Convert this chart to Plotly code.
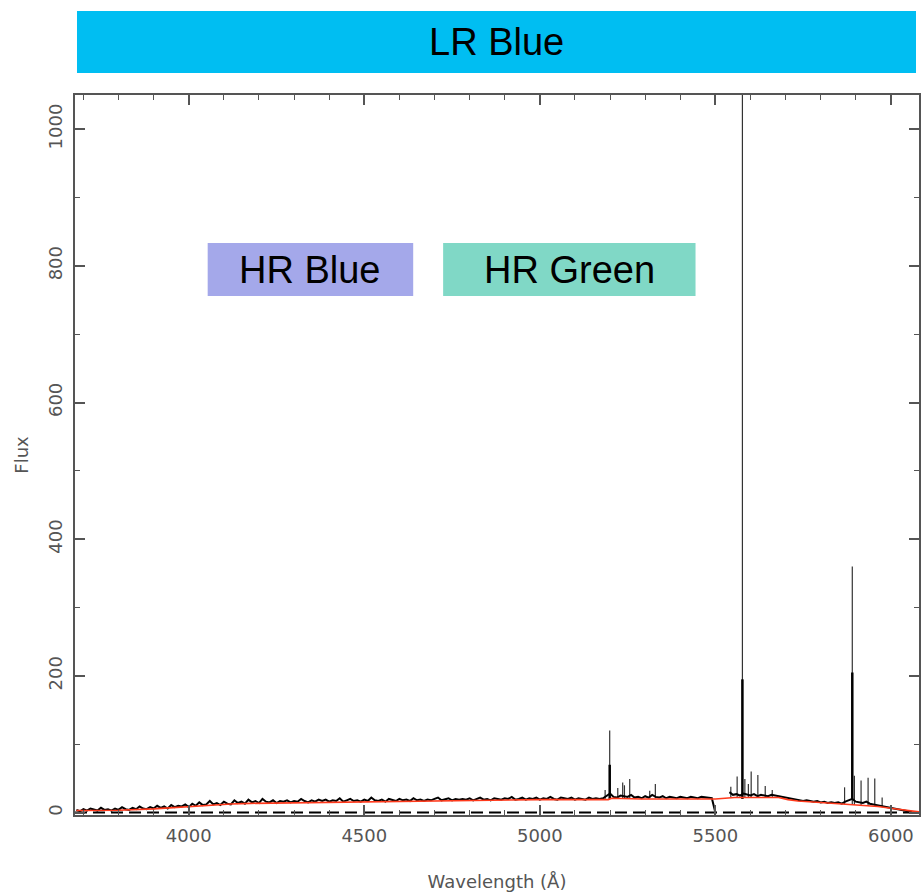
import plotly.graph_objects as go

# ---------------- data ----------------
# observed spectrum, sampled every 10 A starting at 3680 A (None = no data)
flux_start = 3680
flux_step = 10
flux = [
    4, 2, 5, 3, 6, 4, 3, 7, 4, 5,
    3, 6, 4, 8, 5, 4, 7, 5, 9, 6,
    5, 8, 6, 10, 7, 9, 6, 11, 8, 10,
    9, 12, 8, 13, 10, 15, 11, 12, 17, 12,
    14, 11, 16, 13, 12, 18, 14, 16, 13, 19,
    15, 17, 14, 20, 16, 15, 18, 14, 17, 16,
    18, 15, 17, 16, 20, 17, 15, 18, 16, 19,
    17, 19, 16, 18, 17, 21, 16, 18, 20, 17,
    18, 16, 19, 17, 22, 18, 17, 19, 16, 20,
    18, 17, 20, 18, 19, 17, 21, 18, 19, 17,
    19, 18, 20, 22, 18, 19, 21, 18, 20, 19,
    20, 19, 21, 18, 20, 22, 19, 20, 18, 21,
    20, 19, 21, 20, 23, 19, 20, 22, 19, 21,
    20, 22, 19, 21, 20, 23, 20, 19, 22, 21,
    20, 22, 19, 21, 20, 19, 22, 20, 21, 20,
    21, 24, 28, 23, 22, 25, 24, 23, 26, 22,
    23, 21, 24, 22, 26, 23, 22, 24, 21, 23,
    22, 21, 23, 22, 21, 23, 22, 21, 23, 22,
    22, 21, 0, None, None, None, 30, 26, 27, 25,
    28, 26, 25, 27, 24, 26, 25, 24, 26, 25,
    24, 22, 21, 20, 19, 18, 18, 17, 18, 17,
    16, 17, 15, 16, 14, 15, 14, 15, 13, 16,
    18, 20, 16, 15, 14, 16, 13, 12, 11, 10,
    9, 8, 7, 6, 5, 4, 3, 2, 1,
]

# continuum fit (red)
cont_wave = [3680, 3800, 3900, 3960, 4000, 4120, 4175, 4260, 4300, 4460, 4670,
             4880, 5000, 5195, 5205, 5290, 5500, 5555, 5680, 5707, 5735, 5820,
             5906, 5963, 6005, 6048, 6080]
cont_flux = [3, 3.5, 5.5, 7.5, 9.5, 12.5, 13.5, 14, 15, 16, 17.5,
             18.5, 19, 19, 21, 20, 20, 22, 22, 19, 17, 14,
             11, 9, 6, 3, 1]

# narrow emission / sky lines: wavelength, base, peak
line_wave = [5186, 5199, 5222, 5236, 5241, 5256, 5313, 5329,
             5544, 5562, 5577, 5584, 5594, 5602, 5621, 5642, 5662,
             5868, 5890, 5896, 5915, 5935, 5954, 5975]
line_base = [20, 20, 21, 21, 21, 21, 21, 21,
             22, 22, 22, 22, 22, 22, 22, 22, 22,
             12, 11, 11, 11, 10, 10, 9]
line_peak = [33, 120, 36, 44, 40, 49, 32, 42,
             38, 53, 1200, 49, 42, 60, 55, 39, 33,
             37, 360, 54, 47, 51, 50, 22]

# saturated cores of the strongest lines
core_wave = [5199, 5577, 5890]
core_peak = [70, 195, 205]

zero_level = 0

# ---------------- figure ----------------
wave = [flux_start + flux_step * i for i in range(len(flux))]

lx, ly = [], []
for w, b, p in zip(line_wave, line_base, line_peak):
    lx += [w, w, None]
    ly += [b, p, None]

cx, cy = [], []
for w, p in zip(core_wave, core_peak):
    cx += [w, w, None]
    cy += [20, p, None]

X_RANGE = [3676, 6080]
Y_RANGE = [-3.5, 1050]

fig = go.Figure()
fig.add_trace(go.Scatter(x=[X_RANGE[0], X_RANGE[1]], y=[zero_level, zero_level],
                         mode="lines", line=dict(color="black", width=2, dash="12px,6px"),
                         hoverinfo="skip"))
fig.add_trace(go.Scatter(x=lx, y=ly, mode="lines", line=dict(color="#333333", width=1.2),
                         connectgaps=False, hoverinfo="skip"))
fig.add_trace(go.Scatter(x=wave, y=flux, mode="lines", line=dict(color="black", width=2),
                         connectgaps=False))
fig.add_trace(go.Scatter(x=cx, y=cy, mode="lines", line=dict(color="black", width=2.5),
                         connectgaps=False, hoverinfo="skip"))
fig.add_trace(go.Scatter(x=cont_wave, y=cont_flux, mode="lines",
                         line=dict(color="#ff3a1c", width=1.6)))

L, R, T, B = 75, 0, 95, 80
W, H = 921, 895
PW, PH = W - L - R, H - T - B


def xp(px):
    return (px - L) / PW


def yp(py):
    return (H - B - py) / PH


boxes = [
    ("LR Blue", 77, 918, 11, 73, "#00bef2"),
    ("HR Blue", 208, 414, 243, 296, "#a4a8ea"),
    ("HR Green", 444, 697, 243, 296, "#80d8c6"),
]
shapes, annotations = [], []
for label, x0, x1, y0, y1, col in boxes:
    shapes.append(dict(type="rect", xref="paper", yref="paper",
                       x0=xp(x0), x1=xp(x1), y0=yp(y1), y1=yp(y0),
                       fillcolor=col, line=dict(width=0), layer="above"))
    annotations.append(dict(text=label, xref="paper", yref="paper",
                            x=xp((x0 + x1) / 2), y=yp((y0 + y1) / 2),
                            xanchor="center", yanchor="middle", showarrow=False,
                            font=dict(family="Liberation Sans, Arial", size=38, color="black")))

tick_font = dict(family="DejaVu Sans, sans-serif", size=18, color="#555555")
title_font = dict(family="DejaVu Sans, sans-serif", size=18, color="#555555")
fig.update_layout(
    width=W, height=H,
    margin=dict(l=L, r=R, t=T, b=B),
    paper_bgcolor="white", plot_bgcolor="white",
    showlegend=False,
    shapes=shapes, annotations=annotations,
    xaxis=dict(range=X_RANGE, showgrid=False, zeroline=False,
               showline=True, linecolor="#555555", linewidth=1.5, mirror="allticks",
               ticks="inside", ticklen=10, tickwidth=1.5, tickcolor="#555555",
               tick0=4000, dtick=500, tickfont=tick_font, ticklabelstandoff=4,
               minor=dict(ticks="inside", ticklen=5, tickwidth=1.2, tickcolor="#555555", dtick=100),
               title=dict(text="Wavelength (Å)", font=title_font, standoff=30)),
    yaxis=dict(range=Y_RANGE, showgrid=False, zeroline=False,
               showline=True, linecolor="#555555", linewidth=1.5, mirror="allticks",
               ticks="inside", ticklen=10, tickwidth=1.5, tickcolor="#555555",
               tick0=0, dtick=200, tickangle=-90, tickfont=tick_font, ticklabelstandoff=4,
               minor=dict(ticks="inside", ticklen=5, tickwidth=1.2, tickcolor="#555555", dtick=100),
               title=dict(text="Flux", font=title_font, standoff=12)),
)

fig.write_html("out.html")
